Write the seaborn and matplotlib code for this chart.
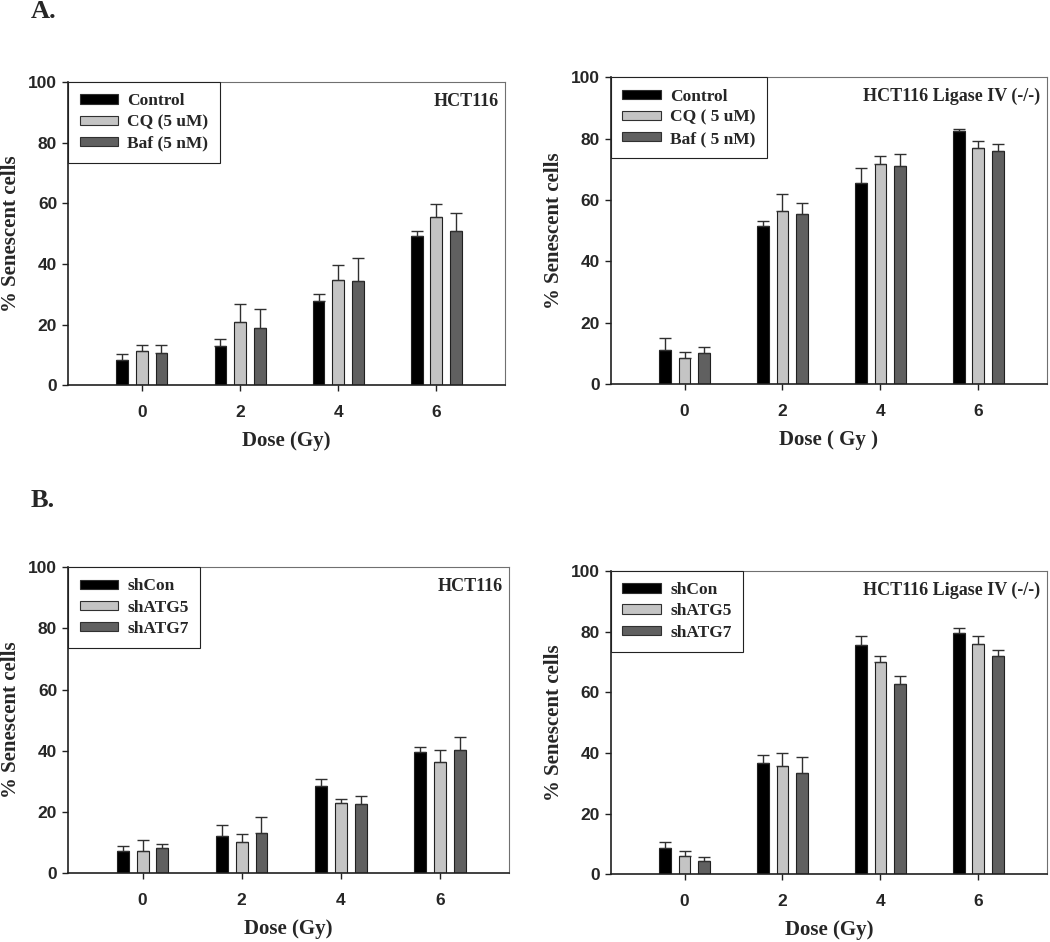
import matplotlib
matplotlib.use("Agg")
import matplotlib.pyplot as plt
import numpy as np
import pandas as pd
import seaborn as sns

# doses on the x axis
doses = [0, 2, 4, 6]

# panel A: drug treatments
drug_groups_left = ["Control", "CQ (5 uM)", "Baf (5 nM)"]
drug_groups_right = ["Control", "CQ ( 5 uM)", "Baf ( 5 nM)"]
a_hct_mean = [[8.2, 13.1, 27.8, 49.3], [11.2, 20.7, 34.7, 55.6], [10.8, 18.8, 34.5, 51.0]]
a_hct_err = [[2.1, 2.2, 2.3, 1.6], [2.1, 6.1, 4.9, 4.3], [2.5, 6.3, 7.3, 5.9]]
a_lig_mean = [[11.1, 51.4, 65.4, 82.5], [8.7, 56.5, 71.7, 76.8], [10.1, 55.4, 71.2, 75.9]]
a_lig_err = [[4.1, 1.9, 5.2, 0.7], [1.7, 5.5, 2.8, 2.6], [2.0, 3.6, 3.7, 2.2]]

# panel B: shRNA knockdowns
sh_groups = ["shCon", "shATG5", "shATG7"]
b_hct_mean = [[7.1, 12.2, 28.5, 39.5], [7.4, 10.3, 22.9, 36.3], [8.3, 13.3, 22.7, 40.2]]
b_hct_err = [[1.7, 3.4, 2.2, 1.6], [3.6, 2.4, 1.2, 3.8], [1.1, 5.0, 2.4, 4.2]]
b_lig_mean = [[8.7, 36.7, 75.6, 79.6], [6.1, 35.7, 69.9, 75.9], [4.3, 33.5, 62.8, 72.0]]
b_lig_err = [[1.8, 2.7, 3.0, 1.5], [1.7, 4.1, 2.0, 2.5], [1.2, 5.1, 2.5, 1.9]]

bar_colors = ["#000000", "#c4c4c4", "#606060"]

sns.set_style("ticks")
plt.rcParams["legend.fancybox"] = False
plt.rcParams["legend.framealpha"] = 1
plt.rcParams["legend.edgecolor"] = "#222222"

serif = ["Liberation Serif", "DejaVu Serif"]
sans = ["Liberation Sans", "DejaVu Sans"]


def draw_panel(ax, groups, means, errs, cell_line, xlabel):
    df = pd.DataFrame({
        "dose": np.tile(doses, len(groups)),
        "pct": np.concatenate(means),
        "group": np.repeat(groups, len(doses)),
    })
    sns.barplot(data=df, x="dose", y="pct", hue="group", hue_order=groups,
                native_scale=True, width=0.6, gap=0.4, palette=bar_colors,
                edgecolor="#202020", linewidth=0.8, errorbar=None, ax=ax)
    # upward-only error bars on top of each bar
    for cont, err in zip(ax.containers, errs):
        xs = [b.get_x() + b.get_width() / 2 for b in cont]
        ys = [b.get_height() for b in cont]
        ax.errorbar(xs, ys, yerr=[np.zeros(len(err)), err], fmt="none",
                    ecolor="#303030", elinewidth=1.0, capsize=4.3, capthick=1.0)

    ax.set_xlim(-1.5, 7.4)
    ax.set_ylim(0, 100)
    ax.set_xticks(doses)
    ax.set_yticks([0, 20, 40, 60, 80, 100])
    for lab in ax.get_xticklabels() + ax.get_yticklabels():
        lab.set_family(sans)
        lab.set_weight("bold")
        lab.set_size(12.5)
    ax.tick_params(length=4, width=1, color="#202020", pad=4)
    ax.tick_params(axis="x", pad=10)
    ax.set_xlabel(xlabel, family=serif, weight="bold", size=15, labelpad=8)
    ax.set_ylabel("% Senescent cells", family=serif, weight="bold", size=15, labelpad=5)
    for side in ["left", "bottom"]:
        ax.spines[side].set_color("#202020")
        ax.spines[side].set_linewidth(1.2)
    for side in ["top", "right"]:
        ax.spines[side].set_visible(True)
        ax.spines[side].set_color("#707070")
        ax.spines[side].set_linewidth(0.8)

    sns.move_legend(ax, "upper left", title=None, frameon=True, borderaxespad=0,
                    handlelength=2.2, handleheight=0.45, labelspacing=0.3,
                    borderpad=0.65, handletextpad=0.55,
                    prop=dict(family=serif, weight="bold", size=12.5))
    leg = ax.get_legend()
    leg.get_frame().set_linewidth(0.8)
    for h in leg.legend_handles:
        h.set_edgecolor("#303030")
        h.set_linewidth(0.8)
    ax.text(0.985, 0.965, cell_line, transform=ax.transAxes, ha="right", va="top",
            family=serif, weight="bold", size=13)


fig = plt.figure(figsize=(10.5, 9.42), dpi=100)
ax1 = fig.add_axes([0.065, 0.591, 0.416, 0.322])
ax2 = fig.add_axes([0.582, 0.592, 0.415, 0.326])
ax3 = fig.add_axes([0.065, 0.073, 0.420, 0.325])
ax4 = fig.add_axes([0.582, 0.072, 0.415, 0.322])

draw_panel(ax1, drug_groups_left, a_hct_mean, a_hct_err, "HCT116", "Dose (Gy)")
draw_panel(ax2, drug_groups_right, a_lig_mean, a_lig_err, "HCT116 Ligase IV (-/-)", "Dose ( Gy )")
draw_panel(ax3, sh_groups, b_hct_mean, b_hct_err, "HCT116", "Dose (Gy)")
draw_panel(ax4, sh_groups, b_lig_mean, b_lig_err, "HCT116 Ligase IV (-/-)", "Dose (Gy)")

fig.text(0.029, 0.988, "A.", family=serif, weight="bold", size=19, va="center")
fig.text(0.029, 0.469, "B.", family=serif, weight="bold", size=19, va="center")

fig.savefig("out.png", dpi=100)
